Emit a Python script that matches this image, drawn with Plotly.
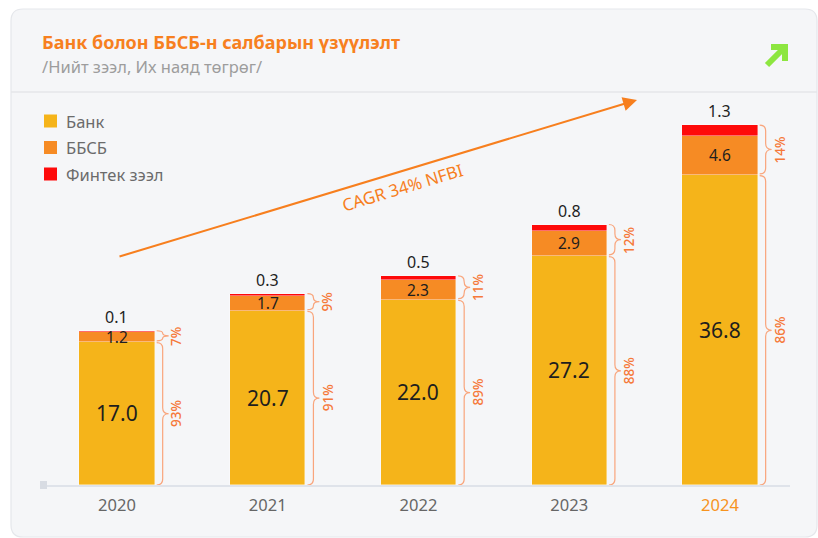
import plotly.graph_objects as go

# data: total loans, trillion MNT
years = ["2020", "2021", "2022", "2023", "2024"]
bank = [17.0, 20.7, 22.0, 27.2, 36.8]
nbfi = [1.2, 1.7, 2.3, 2.9, 4.6]
fintech = [0.1, 0.3, 0.5, 0.8, 1.3]

series_names = ["Банк", "ББСБ", "Финтек зээл"]
series_colors = ["#f5b41a", "#f68b24", "#fe0a0a"]

title = "Банк болон ББСБ-н салбарын үзүүлэлт"
subtitle = "/Нийт зээл, Их наяд төгрөг/"
cagr_text = "CAGR 34% NFBI"

FONT = "Noto Sans"
W, H = 818, 538
L, R, T, B = 42, 28, 92, 53
PW, PH = W - L - R, H - T - B
Y_MAX = 46.62
X_RANGE = [-0.4975, 4.4646]
X_UNIT = PW / (X_RANGE[1] - X_RANGE[0])   # px per category
Y_UNIT = PH / Y_MAX                        # px per value unit
BAR_W = 0.5


def px_x(p):
    return (p - L) / PW


def px_y(p):
    return (H - B - p) / PH


def rounded_rect(x0, y0, x1, y1, r):
    pts = [
        ("M", [(x0 + r, y0)]), ("L", [(x1 - r, y0)]), ("Q", [(x1, y0), (x1, y0 + r)]),
        ("L", [(x1, y1 - r)]), ("Q", [(x1, y1), (x1 - r, y1)]), ("L", [(x0 + r, y1)]),
        ("Q", [(x0, y1), (x0, y1 - r)]), ("L", [(x0, y0 + r)]), ("Q", [(x0, y0), (x0 + r, y0)]),
    ]
    out = ""
    for cmd, ps in pts:
        out += cmd + " ".join(f"{px_x(a):.5f},{px_y(b):.5f}" for a, b in ps) + " "
    return out + "Z"


def brace_path(x0, ytop, ybot):
    w = 12 / X_UNIT
    xm, xt = x0 + w / 2, x0 + w
    ymid = (ytop + ybot) / 2
    r = min(6 / Y_UNIT, (ytop - ybot) / 4)
    return (
        f"M{x0},{ytop} Q{xm},{ytop} {xm},{ytop - r} L{xm},{ymid + r} "
        f"Q{xm},{ymid} {xt},{ymid} Q{xm},{ymid} {xm},{ymid - r} "
        f"L{xm},{ybot + r} Q{xm},{ybot} {x0},{ybot}"
    )


xs = list(range(len(years)))
fig = go.Figure()
for name, vals, col in zip(series_names, [bank, nbfi, fintech], series_colors):
    fig.add_trace(go.Bar(
        x=xs, y=vals, name=name, width=BAR_W, showlegend=False,
        marker=dict(color=col, line=dict(color="rgba(255,255,255,0.5)", width=0.8)),
        hovertemplate="%{y}<extra>" + name + "</extra>",
    ))

# card background + header divider
fig.add_shape(type="path", xref="paper", yref="paper", layer="below",
              path=rounded_rect(11, 9, 817, 537, 12),
              fillcolor="#f5f6f8", line=dict(color="#e5e7eb", width=1.2))
fig.add_shape(type="line", xref="paper", yref="paper", layer="below",
              x0=px_x(11), x1=px_x(817), y0=px_y(92), y1=px_y(92),
              line=dict(color="#e4e6ea", width=1.5))
fig.add_shape(type="rect", xref="paper", yref="paper",
              x0=px_x(40), x1=px_x(47), y0=px_y(481), y1=px_y(489),
              fillcolor="#d8dce3", line_width=0)

# green arrow icon
fig.add_shape(type="line", xref="paper", yref="paper",
              x0=px_x(767), y0=px_y(65), x1=px_x(783), y1=px_y(49),
              line=dict(color="#8de640", width=6))
fig.add_shape(type="path", xref="paper", yref="paper",
              path=f"M{px_x(771)},{px_y(47)} L{px_x(785)},{px_y(47)} L{px_x(785)},{px_y(61)}",
              line=dict(color="#8de640", width=6))

# header text
fig.add_annotation(xref="paper", yref="paper", x=px_x(40), y=px_y(42), xanchor="left",
                   yanchor="middle", showarrow=False, text=f"<b>{title}</b>",
                   font=dict(family=FONT, size=18, color="#f7801f"))
fig.add_annotation(xref="paper", yref="paper", x=px_x(40), y=px_y(67), xanchor="left",
                   yanchor="middle", showarrow=False, text=subtitle,
                   font=dict(family=FONT, size=16.5, color="#9d9d9d"))

# legend
for k, (name, col) in enumerate(zip(series_names, series_colors)):
    cy = 121 + k * 26.5
    fig.add_shape(type="rect", xref="paper", yref="paper",
                  x0=px_x(44), x1=px_x(57), y0=px_y(cy - 6.5), y1=px_y(cy + 6.5),
                  fillcolor=col, line_width=0)
    fig.add_annotation(xref="paper", yref="paper", x=px_x(64), y=px_y(cy), xanchor="left",
                       yanchor="middle", showarrow=False, text=name,
                       font=dict(family=FONT, size=16.5, color="#6b6b6b"))

# value labels, braces and shares
for i in xs:
    b, n, f = bank[i], nbfi[i], fintech[i]
    total = b + n + f
    fig.add_annotation(x=i, y=b / 2, text=f"{b:.1f}", showarrow=False,
                       font=dict(family=FONT, size=21, color="#1e1e1e"))
    fig.add_annotation(x=i, y=b + n / 2, text=f"{n:.1f}", showarrow=False,
                       font=dict(family=FONT, size=15.5, color="#1e1e1e"))
    fig.add_annotation(x=i, y=total, yshift=14, text=f"{f:.1f}", showarrow=False,
                       font=dict(family=FONT, size=16, color="#1e1e1e"))

    bx = i + BAR_W / 2 + 2 / X_UNIT
    fig.add_shape(type="path", path=brace_path(bx, total, b + 0.1),
                  line=dict(color="#f9a57c", width=1.2))
    fig.add_shape(type="path", path=brace_path(bx, b - 0.1, 0),
                  line=dict(color="#f9a57c", width=1.2))
    tx = i + BAR_W / 2 + 22 / X_UNIT
    fig.add_annotation(x=tx, y=(total + b) / 2, text=f"{round((n + f) / total * 100)}%",
                       textangle=-90, showarrow=False,
                       font=dict(family=FONT, size=13.5, color="#f5793a", weight=500))
    fig.add_annotation(x=tx, y=b / 2, text=f"{round(b / total * 100)}%",
                       textangle=-90, showarrow=False,
                       font=dict(family=FONT, size=13.5, color="#f5793a", weight=500))

# CAGR arrow
fig.add_annotation(xref="x domain", yref="y domain", axref="x domain", ayref="y domain",
                   x=px_x(637), y=px_y(100), ax=px_x(118), ay=px_y(257), text="",
                   showarrow=True, arrowhead=2, arrowsize=1.4, arrowwidth=2,
                   arrowcolor="#f77f1e")
fig.add_annotation(xref="x domain", yref="y domain", x=px_x(402), y=px_y(156),
                   text=cagr_text, textangle=-16.8, showarrow=False,
                   font=dict(family=FONT, size=17, color="#f77f1e"))

tick_text = [f"<span style='color:#f7931e'>{y}</span>" if y == years[-1] else y for y in years]

fig.update_layout(
    width=W, height=H, barmode="stack", bargap=0,
    margin=dict(l=L, r=R, t=T, b=B),
    paper_bgcolor="white", plot_bgcolor="rgba(0,0,0,0)",
    font=dict(family=FONT, color="#666666"),
    xaxis=dict(range=X_RANGE, tickvals=xs, ticktext=tick_text, showgrid=False,
               zeroline=False, showline=True, linecolor="#dfe3ea", linewidth=2,
               ticks="", ticklabelstandoff=4, tickfont=dict(size=16.5, color="#666666"),
               fixedrange=True),
    yaxis=dict(range=[0, Y_MAX], visible=False, showgrid=False, fixedrange=True),
)

fig.write_html("out.html", config={"displayModeBar": False},
               post_script="document.body.style.margin = '0';")
